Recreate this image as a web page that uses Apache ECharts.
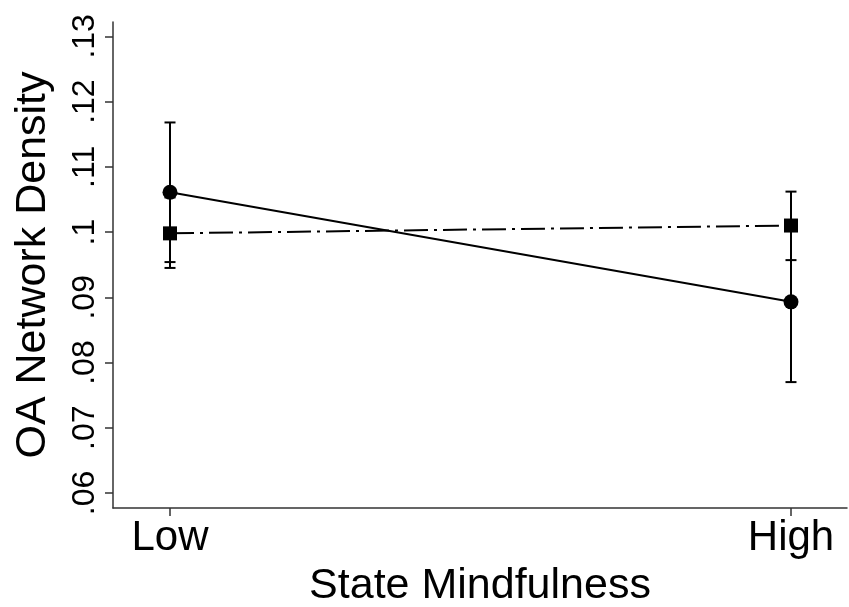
<!DOCTYPE html>
<html><head><meta charset="utf-8">
<script src="https://cdn.jsdelivr.net/npm/echarts@6/dist/echarts.min.js"></script>
<style>html,body{margin:0;padding:0;background:#fff}#c{width:849px;height:607px}</style>
</head><body><div id="c"></div>
<script>
const categories = ['Low', 'High'];
const categoryPos = [0, 1];
const yTicks = [0.06, 0.07, 0.08, 0.09, 0.10, 0.11, 0.12, 0.13];
const yTickLabels = ['.06', '.07', '.08', '.09', '.1', '.11', '.12', '.13'];
const circleMean = [0.1061, 0.0893];
const circleLow = [0.0954, 0.0770];
const circleHigh = [0.1168, 0.1016];
const squareMean = [0.0998, 0.1010];
const squareLow = [0.0945, 0.0957];
const squareHigh = [0.1053, 0.1062];

const FONT = "'Liberation Sans', Arial, Helvetica, sans-serif";
const AXC = '#333';

function errData(lo, hi) { return categoryPos.map((x, i) => [x, lo[i], hi[i]]); }
function errRender(params, api) {
  const x = api.value(0), lo = api.value(1), hi = api.value(2);
  const a = api.coord([x, lo]), b = api.coord([x, hi]);
  const w = 5.5, st = { stroke: '#000', lineWidth: 2 };
  return { type: 'group', children: [
    { type: 'line', shape: { x1: a[0], y1: a[1], x2: b[0], y2: b[1] }, style: st },
    { type: 'line', shape: { x1: a[0] - w, y1: a[1], x2: a[0] + w, y2: a[1] }, style: st },
    { type: 'line', shape: { x1: b[0] - w, y1: b[1], x2: b[0] + w, y2: b[1] }, style: st }
  ]};
}

const chart = echarts.init(document.getElementById('c'));
chart.setOption({
  animation: false,
  backgroundColor: '#fff',
  grid: { left: 113, right: 2, top: 22, bottom: 99, containLabel: false, outerBoundsMode: 'none' },
  xAxis: {
    type: 'value', min: -0.0918, max: 1.0902,
    axisLine: { show: true, onZero: false, lineStyle: { color: AXC, width: 1.5 } },
    axisTick: { show: true, length: 8, customValues: categoryPos, lineStyle: { color: AXC, width: 1.5 } },
    axisLabel: { customValues: categoryPos, formatter: v => categories[Math.round(v)], fontSize: 42, fontFamily: FONT, color: '#000', margin: 9 },
    splitLine: { show: false },
    name: 'State Mindfulness', nameLocation: 'middle', nameGap: 57,
    nameTextStyle: { fontSize: 43, fontFamily: FONT, color: '#000' }
  },
  yAxis: {
    type: 'value', min: 0.0577, max: 0.1322,
    axisLine: { show: true, onZero: false, lineStyle: { color: AXC, width: 1.5 } },
    axisTick: { show: true, length: 8, customValues: yTicks, lineStyle: { color: AXC, width: 1.5 } },
    axisLabel: { customValues: yTicks, rotate: 90, formatter: v => yTickLabels[yTicks.findIndex(t => Math.abs(t - v) < 1e-6)], fontSize: 32, fontFamily: FONT, color: '#000', margin: 12 },
    splitLine: { show: false },
    name: 'OA Network Density', nameLocation: 'middle', nameRotate: 90, nameGap: 58,
    nameTextStyle: { fontSize: 43, fontFamily: FONT, color: '#000' }
  },
  series: [
    { type: 'custom', renderItem: errRender, data: errData(circleLow, circleHigh), z: 1, silent: true },
    { type: 'custom', renderItem: errRender, data: errData(squareLow, squareHigh), z: 1, silent: true },
    { type: 'line', data: categoryPos.map((x, i) => [x, circleMean[i]]), symbol: 'circle', symbolSize: 15,
      itemStyle: { color: '#000' }, lineStyle: { color: '#000', width: 2 }, z: 3 },
    { type: 'line', data: categoryPos.map((x, i) => [x, squareMean[i]]), symbol: 'rect', symbolSize: 14,
      itemStyle: { color: '#000' }, lineStyle: { color: '#000', width: 2, type: [24, 6, 3, 6] }, z: 3 }
  ]
});
</script></body></html>
